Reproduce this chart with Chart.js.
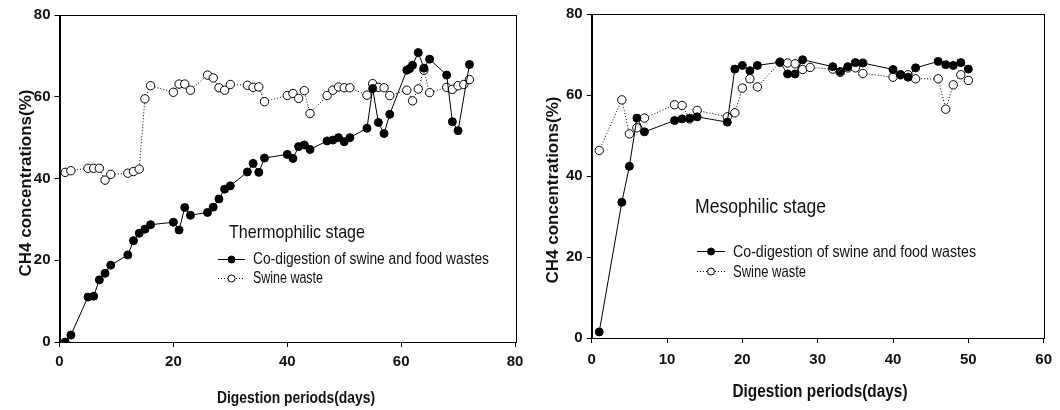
<!DOCTYPE html>
<html>
<head>
<meta charset="utf-8">
<script src="https://cdn.jsdelivr.net/npm/chart.js@4/dist/chart.umd.min.js"></script>
<style>
  body { margin: 0; background: #fff; }
  .panel { position: absolute; top: 0; width: 530px; height: 410px; }
</style>
</head>
<body>
<div class="panel" style="left:0"><canvas id="thermo" width="530" height="410"></canvas></div>
<div class="panel" style="left:530px"><canvas id="meso" width="530" height="410"></canvas></div>
<script>
// Thermophilic stage (left panel)
const thermoCoDays = [1, 2, 5, 6, 7, 8, 9, 12, 13, 14, 15, 16, 20, 21, 22, 23, 26, 27, 28, 29, 30, 33, 34, 35, 36, 40, 41, 42, 43, 44, 47, 48, 49, 50, 51, 54, 55, 56, 57, 58, 61, 61.5, 62, 63, 64, 65, 68, 69, 70, 72];
const thermoCoValues = [0, 1.7, 11, 11.2, 15.2, 16.8, 18.8, 21.3, 24.8, 26.6, 27.6, 28.7, 29.3, 27.4, 32.9, 31, 31.7, 33, 35, 37.4, 38.2, 41.6, 43.7, 41.5, 45, 45.9, 44.9, 47.8, 48.2, 47.1, 49.2, 49.4, 50, 49, 50, 52.3, 62, 53.7, 51, 55.7, 66.5, 66.9, 67.7, 70.8, 67, 69.2, 65.3, 53.9, 51.7, 67.9];
const thermoSwDays = [1, 2, 5, 6, 7, 8, 9, 12, 13, 14, 15, 16, 20, 21, 22, 23, 26, 27, 28, 29, 30, 33, 34, 35, 36, 40, 41, 42, 43, 44, 47, 48, 49, 50, 51, 54, 55, 56, 57, 58, 61, 62, 63, 64, 65, 68, 69, 70, 71, 72];
const thermoSwValues = [41.5, 41.9, 42.5, 42.5, 42.5, 39.6, 41, 41.3, 41.7, 42.3, 59.5, 62.7, 61.1, 63.1, 63.1, 61.6, 65.3, 64.6, 62.2, 61.6, 63, 62.8, 62.3, 62.4, 58.8, 60.3, 60.8, 59.6, 61.5, 55.9, 60.3, 61.6, 62.4, 62.2, 62.2, 60.4, 63.2, 62.3, 62.2, 60.3, 61.6, 59, 61.9, 66.5, 61, 62.3, 61.8, 62.7, 63, 64.2];

// Mesophilic stage (right panel)
const mesoCoDays = [1, 4, 5, 6, 7, 11, 12, 13, 14, 18, 19, 20, 21, 22, 25, 26, 27, 28, 32, 33, 34, 35, 36, 40, 41, 42, 43, 46, 47, 48, 49, 50];
const mesoCoValues = [1.5, 33.5, 42.4, 54.3, 50.9, 53.7, 54.1, 54.3, 54.6, 53.3, 66.4, 67.3, 66, 67.3, 68.1, 65.2, 65.2, 68.7, 67, 65.8, 67, 68, 67.9, 66.3, 65, 64.4, 66.7, 68.3, 67.5, 67.3, 68, 66.4];
const mesoSwDays = [1, 4, 5, 6, 7, 11, 12, 13, 14, 18, 19, 20, 21, 22, 25, 26, 27, 28, 29, 32, 33, 34, 35, 36, 40, 41, 42, 43, 46, 47, 48, 49, 50];
const mesoSwValues = [46.3, 58.8, 50.4, 51.9, 54.3, 57.6, 57.4, 54.1, 56.2, 54.6, 55.6, 61.7, 64, 62, 68.1, 67.9, 67.7, 66.3, 66.8, 66.4, 65.6, 66.7, 66.7, 65.3, 64.4, 65, 65, 64, 64, 56.5, 62.5, 65, 63.6];

const yTicks = [0, 20, 40, 60, 80];
const seriesNames = ["Co-digestion of swine and food wastes", "Swine waste"];
const xTitleText = "Digestion periods(days)";
const yTitleText = "CH4 concentrations(%)";

const toPoints = (xs, ys) => xs.map((x, i) => ({ x: x, y: ys[i] }));

const family = "'Liberation Sans', Arial, sans-serif";
const tickFont = { family: family, size: 15, weight: "bold" };

// text squeezed horizontally to look like the narrow face of the original
function narrowText(ctx, text, x, y, font, width, align) {
  ctx.save();
  ctx.font = font;
  const w = ctx.measureText(text).width;
  const sx = Math.min(1, width / w);
  ctx.translate(x, y);
  ctx.scale(sx, 1);
  ctx.textAlign = align || "left";
  ctx.fillText(text, 0, 0);
  ctx.restore();
}

// frame, axis titles, stage label and legend
const stagePlugin = {
  id: "stageLegend",
  afterDraw(chart, args, opts) {
    const ctx = chart.ctx;
    const a = chart.chartArea;
    ctx.save();
    ctx.strokeStyle = "#000";
    ctx.lineWidth = 1;
    ctx.strokeRect(Math.round(a.left) + 0.5, Math.round(a.top) + 0.5, Math.round(a.right - a.left), Math.round(a.bottom - a.top));

    ctx.fillStyle = "#111";
    ctx.textBaseline = "middle";

    // axis titles
    const xt = opts.xTitle;
    narrowText(ctx, xTitleText, xt.cx, xt.cy, "bold " + xt.size + "px " + family, xt.width, "center");
    const yt = opts.yTitle;
    ctx.save();
    ctx.translate(yt.cx, yt.cy);
    ctx.rotate(-Math.PI / 2);
    narrowText(ctx, yTitleText, 0, 0, "bold " + yt.size + "px " + family, yt.width, "center");
    ctx.restore();

    // stage label
    narrowText(ctx, opts.title, opts.titleX, opts.titleY, opts.titleSize + "px " + family, opts.titleWidth);

    // legend rows
    opts.rows.forEach((y, i) => {
      const x0 = opts.lineX, x1 = opts.lineX + opts.lineLen, xm = (x0 + x1) / 2;
      ctx.beginPath();
      ctx.setLineDash(i === 0 ? [] : [1, 2]);
      ctx.moveTo(x0, y + 0.5);
      ctx.lineTo(x1, y + 0.5);
      ctx.stroke();
      ctx.setLineDash([]);
      ctx.beginPath();
      ctx.arc(xm, y + 0.5, 3.5, 0, Math.PI * 2);
      ctx.fillStyle = i === 0 ? "#000" : "#fff";
      ctx.fill();
      ctx.stroke();
      ctx.fillStyle = "#111";
      narrowText(ctx, seriesNames[i], opts.textX, y + 1, opts.textSize + "px " + family, opts.textWidths[i]);
    });
    ctx.restore();
  }
};

function makeChart(id, cfg) {
  return new Chart(document.getElementById(id), {
    type: "line",
    data: {
      datasets: [
        {
          label: seriesNames[0],
          data: toPoints(cfg.coDays, cfg.coValues),
          borderColor: "#000",
          borderWidth: 1,
          backgroundColor: "#000",
          pointRadius: 4,
          pointBorderWidth: 1,
          pointBorderColor: "#000",
          pointBackgroundColor: "#000",
          tension: 0
        },
        {
          label: seriesNames[1],
          data: toPoints(cfg.swDays, cfg.swValues),
          borderColor: "#000",
          borderWidth: 1,
          borderDash: [1, 2],
          pointRadius: 4.2,
          pointBorderWidth: 1,
          pointBorderColor: "#000",
          pointBackgroundColor: "#fff",
          tension: 0
        }
      ]
    },
    options: {
      responsive: false,
      animation: false,
      layout: { autoPadding: false, padding: cfg.padding },
      plugins: {
        legend: { display: false },
        tooltip: { enabled: false },
        stageLegend: cfg.legend
      },
      scales: {
        x: {
          type: "linear",
          min: 0,
          max: cfg.xMax,
          afterFit: (s) => { s.height = cfg.xAxisHeight; },
          ticks: { stepSize: cfg.xStep, color: "#111", font: tickFont, padding: cfg.xTickPad, maxRotation: 0 },
          grid: { drawOnChartArea: false, drawTicks: true, tickLength: 5, color: "#000" },
          border: { color: "#000", width: 1 }
        },
        y: {
          min: 0,
          max: 80,
          afterFit: (s) => { s.width = cfg.yAxisWidth; },
          afterBuildTicks: (s) => { s.ticks = yTicks.map((v) => ({ value: v })); },
          ticks: { color: "#111", font: tickFont, padding: 4 },
          grid: { drawOnChartArea: false, drawTicks: true, tickLength: 5, color: "#000" },
          border: { color: "#000", width: 1 }
        }
      }
    },
    plugins: [stagePlugin]
  });
}

makeChart("thermo", {
  coDays: thermoCoDays, coValues: thermoCoValues,
  swDays: thermoSwDays, swValues: thermoSwValues,
  xMax: 80, xStep: 20,
  padding: { top: 15, right: 15, left: 0, bottom: 0 },
  xAxisHeight: 68, yAxisWidth: 59.5,
  xTickPad: 6,
  legend: {
    xTitle: { cx: 296, cy: 398, size: 17, width: 158 },
    yTitle: { cx: 26, cy: 183, size: 17, width: 195 },
    title: "Thermophilic stage", titleX: 229, titleY: 233, titleSize: 19, titleWidth: 136,
    textSize: 16, textWidths: [236, 70],
    lineX: 218, lineLen: 27, textX: 253, rows: [259, 278]
  }
});

makeChart("meso", {
  coDays: mesoCoDays, coValues: mesoCoValues,
  swDays: mesoSwDays, swValues: mesoSwValues,
  xMax: 60, xStep: 10,
  padding: { top: 14, right: 12, left: 0, bottom: 0 },
  xAxisHeight: 72, yAxisWidth: 61.7,
  xTickPad: 8,
  legend: {
    xTitle: { cx: 290, cy: 392, size: 18, width: 175 },
    yTitle: { cx: 23, cy: 190, size: 17, width: 195 },
    title: "Mesophilic stage", titleX: 165, titleY: 207, titleSize: 20, titleWidth: 131,
    textSize: 16.5, textWidths: [243, 73],
    lineX: 167, lineLen: 28, textX: 203, rows: [251, 271]
  }
});
</script>
</body>
</html>
